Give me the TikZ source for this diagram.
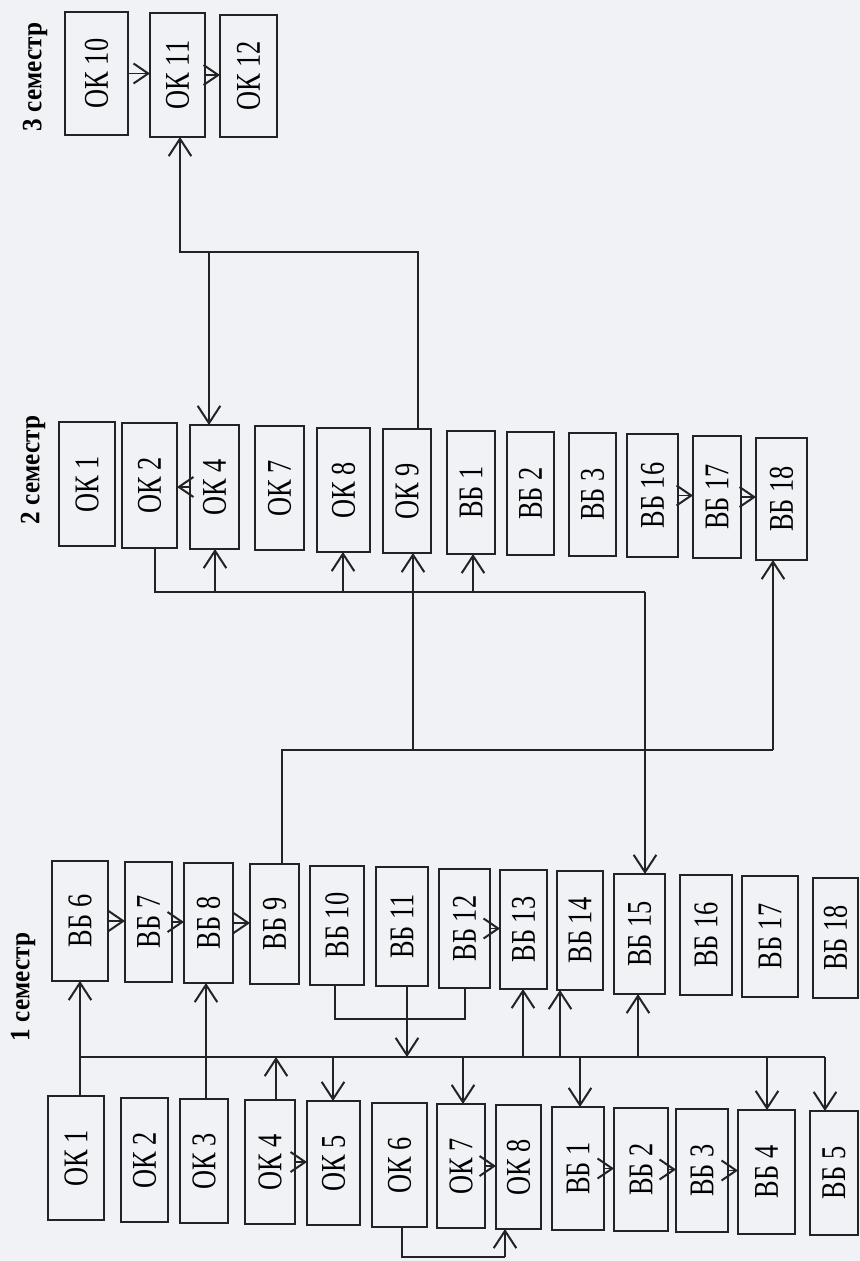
\documentclass[tikz,border=0pt]{standalone}
\usepackage{graphicx}
\usepackage{fontspec}
\setmainfont{Liberation Serif}
\usetikzlibrary{arrows.meta,calc}
\definecolor{paper}{RGB}{241,242,246}
\definecolor{ink}{RGB}{35,35,38}
\newcommand{\lbl}[1]{\rotatebox{90}{\scalebox{0.76}[1]{\fontsize{26}{26}\selectfont #1}}}
\newcommand{\semlbl}[1]{\rotatebox{90}{\scalebox{0.9}[1]{\bfseries\fontsize{21}{21}\selectfont #1}}}
\newcommand{\bx}[6]{\node[bx, minimum width={(#4-#2)*0.75pt}, minimum height={(#5-#3)*0.75pt}] (#1) at ({(#2+#4)/2},{(#3+#5)/2}) {\lbl{#6}};}
\tikzset{
  x=0.75pt, y=-0.75pt,
  bx/.style={draw=ink, line width=1.8pt, inner sep=0pt, outer sep=0pt, rectangle},
  ln/.style={draw=ink, line width=1pt},
  arr/.style={draw=ink, line width=1.5pt, -{Straight Barb[length=13pt,width=17pt,line width=1.5pt]}},
  arrs/.style={draw=ink, line width=1.4pt, -{Straight Barb[length=11pt,width=15pt,line width=1.5pt]}},
  arrb/.style={draw=ink, line width=1.5pt, {Straight Barb[length=13pt,width=17pt,line width=1.5pt]}-{Straight Barb[length=13pt,width=17pt,line width=1.5pt]}},
}
\begin{document}
\begin{tikzpicture}
\fill[paper] (0,0) rectangle (860,1261);
\useasboundingbox (0,0) rectangle (860,1261);

% labels
\node (t3) at (35,77) {\semlbl{3 семестр}};
\node (t2) at (33,470) {\semlbl{2 семестр}};
\node (t1) at (23,987) {\semlbl{1 семестр}};

% semester 3
\bx{a10}{65}{12}{128}{135}{ОК 10}
\bx{a11}{150}{13}{205}{137}{ОК 11}
\bx{a12}{220}{15}{277}{137}{ОК 12}

% semester 2
\bx{b1}{59}{422}{115}{546}{ОК 1}
\bx{b2}{122}{423}{177}{548}{ОК 2}
\bx{b4}{190}{425}{239}{549}{ОК 4}
\bx{b7}{255}{426}{304}{550}{ОК 7}
\bx{b8}{317}{428}{370}{552}{ОК 8}
\bx{b9}{383}{429}{431}{553}{ОК 9}
\bx{bv1}{447}{431}{495}{554}{ВБ 1}
\bx{bv2}{507}{432}{554}{555}{ВБ 2}
\bx{bv3}{569}{433}{616}{556}{ВБ 3}
\bx{bv16}{627}{434}{678}{557}{ВБ 16}
\bx{bv17}{693}{436}{741}{558}{ВБ 17}
\bx{bv18}{756}{438}{807}{560}{ВБ 18}

% semester 1, upper row
\bx{c6}{52}{861}{108}{981}{ВБ 6}
\bx{c7}{125}{862}{172}{982}{ВБ 7}
\bx{c8}{184}{863}{233}{983}{ВБ 8}
\bx{c9}{250}{864}{299}{984}{ВБ 9}
\bx{c10}{310}{866}{364}{985}{ВБ 10}
\bx{c11}{376}{867}{428}{986}{ВБ 11}
\bx{c12}{439}{869}{490}{988}{ВБ 12}
\bx{c13}{500}{870}{547}{989}{ВБ 13}
\bx{c14}{557}{871}{603}{990}{ВБ 14}
\bx{c15}{614}{874}{665}{994}{ВБ 15}
\bx{c16}{680}{875}{732}{995}{ВБ 16}
\bx{c17}{742}{876}{798}{997}{ВБ 17}
\bx{c18}{813}{878}{858}{998}{ВБ 18}

% semester 1, lower row
\bx{d1}{48}{1096}{104}{1220}{ОК 1}
\bx{d2}{121}{1098}{168}{1222}{ОК 2}
\bx{d3}{180}{1099}{228}{1223}{ОК 3}
\bx{d4}{245}{1100}{295}{1224}{ОК 4}
\bx{d5}{307}{1101}{360}{1225}{ОК 5}
\bx{d6}{372}{1103}{427}{1227}{ОК 6}
\bx{d7}{437}{1104}{485}{1228}{ОК 7}
\bx{d8}{496}{1105}{541}{1229}{ОК 8}
\bx{e1}{552}{1107}{604}{1230}{ВБ 1}
\bx{e2}{614}{1108}{668}{1231}{ВБ 2}
\bx{e3}{676}{1109}{728}{1232}{ВБ 3}
\bx{e4}{738}{1110}{795}{1234}{ВБ 4}
\bx{e5}{810}{1111}{858}{1235}{ВБ 5}

% --- connectors, semester 3
\draw[arrs] (a10.east) -- (a10.east -| a11.west);
\draw[arrs] (a11.east) -- (a11.east -| a12.west);
\draw[arrb] (a11.south -| 180,0) -- (180,252) -| (b4.north -| 209,0);
\draw[ln] (b9.north -| 418,0) |- (209,252);

% --- semester 2
\draw[arrs] (b4.west) -- (b4.west -| b2.east);
\draw[arrs] (bv16.east) -- (bv16.east -| bv17.west);
\draw[arrs] (bv17.east) -- (bv17.east -| bv18.west);

\draw[ln] (b2.south -| 155,0) |- (645,592);
\draw[arr] (645,592) -- (c15.north -| 645,0);
\draw[arr] (215,592) -- (b4.south -| 215,0);
\draw[arr] (343,592) -- (b8.south -| 343,0);
\draw[arr] (473,592) -- (bv1.south -| 473,0);

\draw[ln] (c9.north -| 282,0) |- (773,750);
\draw[arr] (773,750) -- (bv18.south -| 773,0);
\draw[arr] (413,750) -- (b9.south -| 413,0);

% --- semester 1
\draw[arrs] (c6.east) -- (c6.east -| c7.west);
\draw[arrs] (c7.east) -- (c7.east -| c8.west);
\draw[arrs] (c8.east) -- (c8.east -| c9.west);
\draw[arrs] (c12.east) -- (c12.east -| c13.west);
\draw[arrs] (d4.east) -- (d4.east -| d5.west);
\draw[arrs] (d7.east) -- (d7.east -| d8.west);
\draw[arrs] (e1.east) -- (e1.east -| e2.west);
\draw[arrs] (e2.east) -- (e2.east -| e3.west);
\draw[arrs] (e3.east) -- (e3.east -| e4.west);

\draw[ln] (80,1057) -- (825,1057);
\draw[arr] (d1.north -| 80,0) -- (c6.south -| 80,0);
\draw[arr] (d3.north -| 206,0) -- (c8.south -| 206,0);
\draw[arr] (d4.north -| 276,0) -- (276,1057);
\draw[arr] (333,1057) -- (d5.north -| 333,0);
\draw[ln] (c10.south -| 335,0) |- (465,1019) -- (c12.south -| 465,0);
\draw[arr] (c11.south -| 407,0) -- (407,1057);
\draw[arr] (463,1057) -- (d7.north -| 463,0);
\draw[arr] (523,1057) -- (c13.south -| 523,0);
\draw[arr] (560,1057) -- (c14.south -| 560,0);
\draw[arr] (580,1057) -- (e1.north -| 580,0);
\draw[arr] (638,1057) -- (c15.south -| 638,0);
\draw[arr] (767,1057) -- (e4.north -| 767,0);
\draw[arr] (825,1057) -- (e5.north -| 825,0);
\draw[ln] (d6.south -| 402,0) |- (505,1257);
\draw[arr] (505,1257) -- (d8.south -| 505,0);
\end{tikzpicture}
\end{document}
